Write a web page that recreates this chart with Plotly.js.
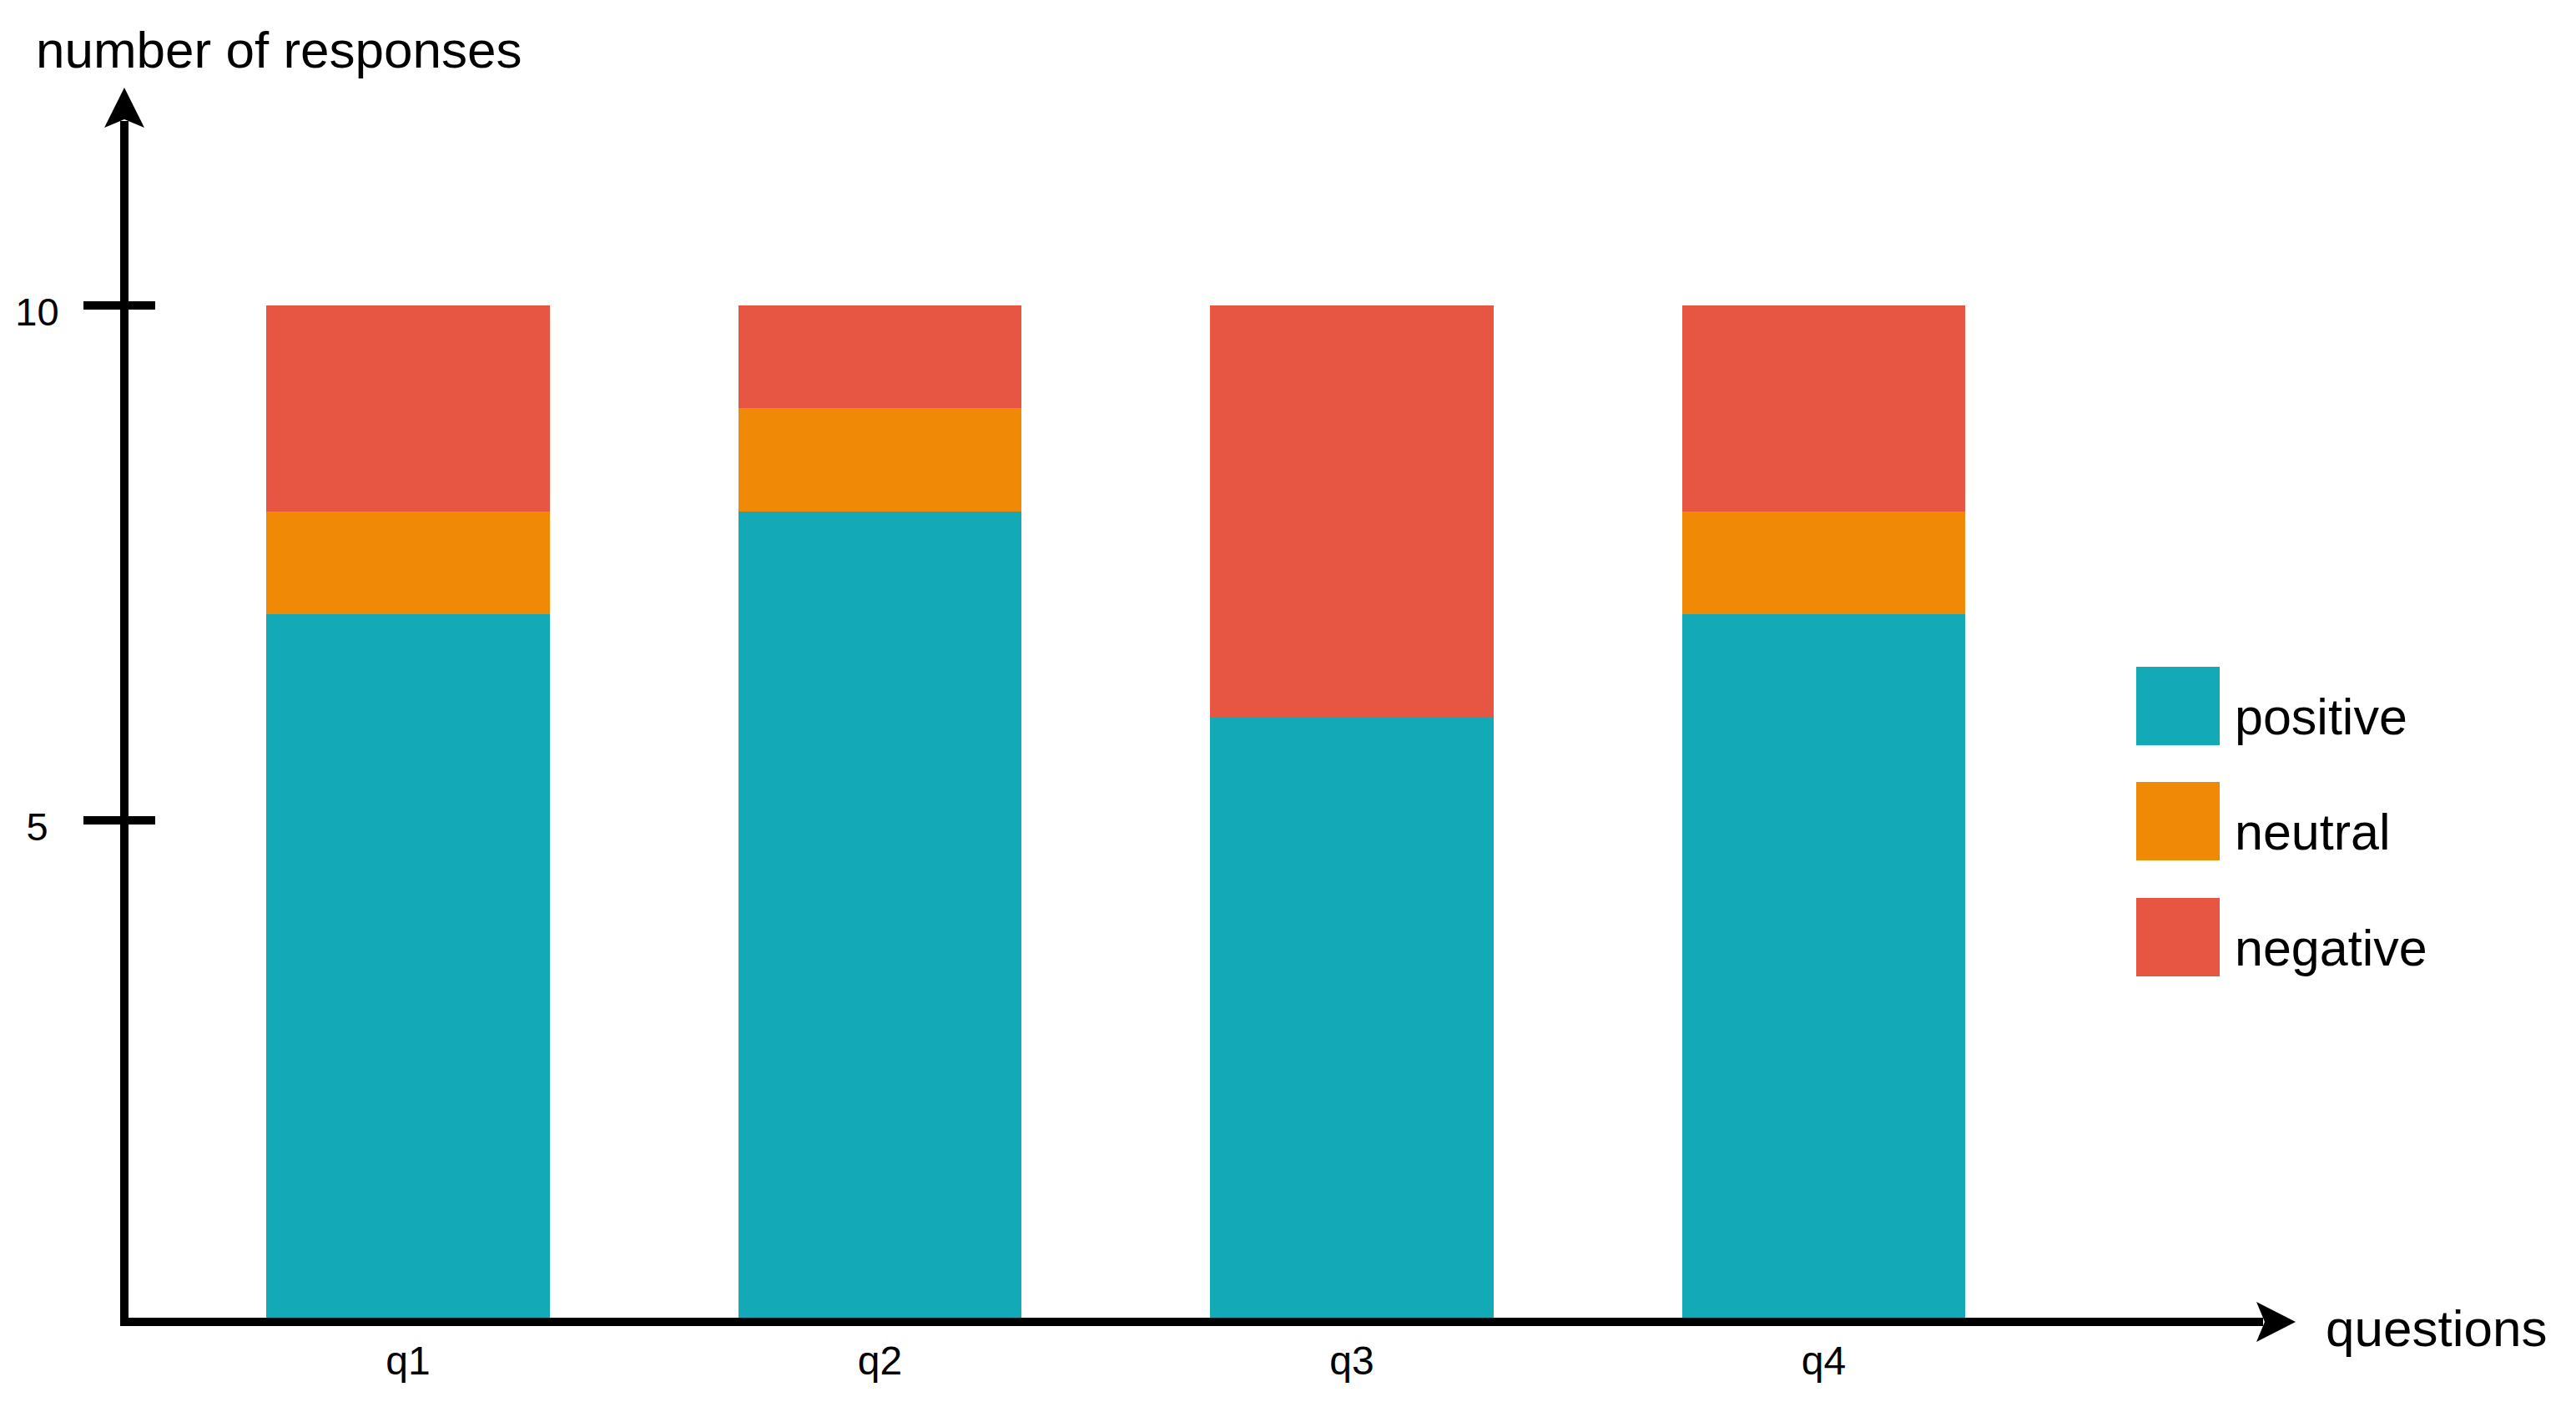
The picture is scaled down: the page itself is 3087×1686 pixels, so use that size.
<!DOCTYPE html>
<html>
<head>
<meta charset="utf-8">
<script src="https://cdn.plot.ly/plotly-3.0.1.min.js"></script>
<style>
  html, body { margin: 0; padding: 0; background: #ffffff; }
  #chart { width: 3087px; height: 1686px; }
</style>
</head>
<body>
<div id="chart"></div>
<script>
// ---- data ----
const categories = ['q1', 'q2', 'q3', 'q4'];
const positive = [7, 8, 6, 7];
const neutral = [1, 1, 0, 1];
const negative = [2, 1, 4, 2];
const seriesNames = ['positive', 'neutral', 'negative'];
const seriesColors = ['#14A9B7', '#EF8906', '#E75543'];
const yTickVals = [5, 10];
const yTickText = ['5\u2008', '10'];
const yTitle = 'number of responses';
const xTitle = 'questions';

// ---- layout geometry (pixels) ----
const W = 3087, H = 1686;
const M = { l: 154, r: 375, t: 145, b: 107 };
const PW = W - M.l - M.r, PH = H - M.t - M.b;
const px = v => (v - M.l) / PW;          // pixel x -> paper x
const py = v => (H - M.b - v) / PH;      // pixel y -> paper y

const FONT = '"Liberation Sans", Arial, Helvetica, sans-serif';
const series = [positive, neutral, negative];

const traces = series.map((vals, i) => ({
  type: 'bar',
  name: seriesNames[i],
  x: categories,
  y: vals,
  marker: { color: seriesColors[i], line: { width: 0 } },
  showlegend: false,
  hoverinfo: 'x+y+name'
}));
// empty helper trace so the overlaid tick axis (inner half of the ticks) is drawn
traces.push({ type: 'scatter', mode: 'markers', x: [], y: [], yaxis: 'y2', showlegend: false, hoverinfo: 'skip' });

const yRange = [0.17, 11.79];

// legend drawn manually (large swatches)
const legendTop = [799, 937, 1076];
const shapes = [];
const annotations = [];
seriesNames.forEach((n, i) => {
  shapes.push({
    type: 'rect', xref: 'paper', yref: 'paper',
    x0: px(2560), x1: px(2660), y0: py(legendTop[i]), y1: py(legendTop[i] + 94),
    fillcolor: seriesColors[i], line: { width: 0 }, layer: 'above'
  });
  annotations.push({
    xref: 'paper', yref: 'paper', x: px(2676), y: py(legendTop[i] + 60),
    xanchor: 'left', yanchor: 'middle', showarrow: false,
    text: n, font: { family: FONT, size: 61, color: '#000' }
  });
});

// axis arrowheads
shapes.push({
  type: 'path', xref: 'paper', yref: 'paper', xsizemode: 'pixel', ysizemode: 'pixel',
  xanchor: 0, yanchor: 1,
  path: 'M-5,40 L-29,-8 L-5,2 L19,-8 Z',
  fillcolor: '#000', line: { width: 0 }, layer: 'above'
});
shapes.push({
  type: 'path', xref: 'paper', yref: 'paper', xsizemode: 'pixel', ysizemode: 'pixel',
  xanchor: 1, yanchor: 0,
  path: 'M39,-5 L-8,19 L2,-5 L-8,-29 Z',
  fillcolor: '#000', line: { width: 0 }, layer: 'above'
});

annotations.push({
  xref: 'paper', yref: 'paper', x: 1, y: 0, xshift: 2785 - (W - M.r), yshift: -12,
  xanchor: 'left', yanchor: 'middle', showarrow: false,
  text: xTitle, font: { family: FONT, size: 62, color: '#000' }
});

const layout = {
  width: W, height: H,
  margin: M,
  paper_bgcolor: '#ffffff', plot_bgcolor: '#ffffff',
  barmode: 'stack',
  bargap: 0.399,
  showlegend: false,
  font: { family: FONT, color: '#000' },
  title: {
    text: yTitle,
    font: { family: FONT, size: 62, color: '#000' },
    xref: 'container', yref: 'container',
    x: 43 / W, xanchor: 'left',
    y: 1 - 38 / H, yanchor: 'top',
    pad: { t: 0, b: 0, l: 0, r: 0 }
  },
  xaxis: {
    type: 'category',
    categoryorder: 'array', categoryarray: categories,
    range: [-0.5924, 3.931],
    showline: true, linewidth: 10, linecolor: '#000',
    showgrid: false, zeroline: false,
    ticks: '',
    tickfont: { family: FONT, size: 48, color: '#000' },
    ticklabelstandoff: 0,
    fixedrange: true
  },
  yaxis: {
    range: yRange,
    showline: true, linewidth: 10, linecolor: '#000',
    showgrid: false, zeroline: false,
    ticks: 'outside', ticklen: 44, tickwidth: 10, tickcolor: '#000',
    tickmode: 'array', tickvals: yTickVals, ticktext: yTickText,
    tickfont: { family: FONT, size: 47, color: '#000' },
    ticklabelstandoff: 20,
    ticklabelshift: 8,
    fixedrange: true
  },
  yaxis2: {
    overlaying: 'y', side: 'left',
    range: yRange,
    showline: true, linewidth: 10, linecolor: '#000',
    showgrid: false, zeroline: false,
    ticks: 'inside', ticklen: 32, tickwidth: 10, tickcolor: '#000',
    tickmode: 'array', tickvals: yTickVals,
    showticklabels: false,
    fixedrange: true
  },
  shapes: shapes,
  annotations: annotations
};

Plotly.newPlot('chart', traces, layout, { displayModeBar: false, staticPlot: true });
</script>
</body>
</html>
